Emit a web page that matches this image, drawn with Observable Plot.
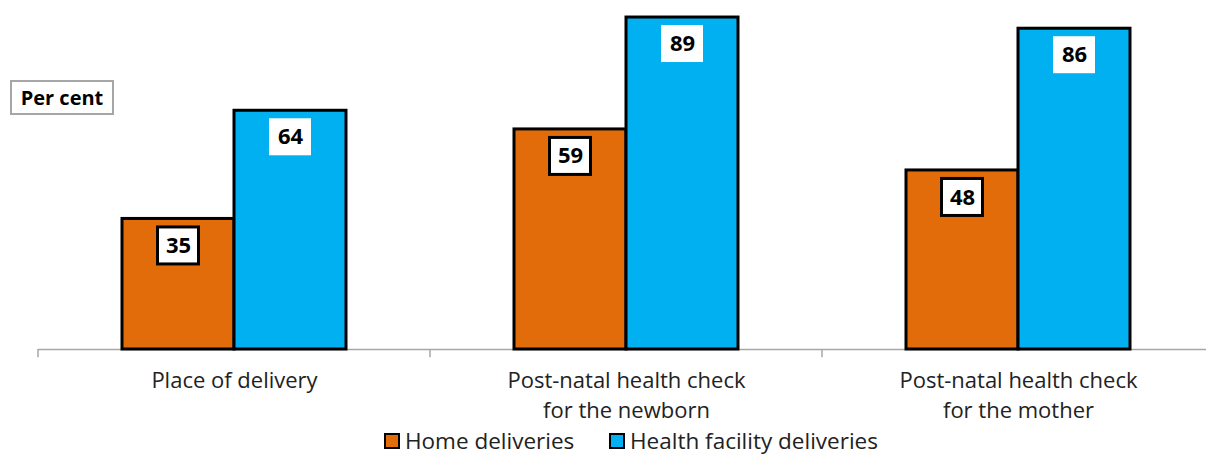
<!DOCTYPE html>
<html><head><meta charset="utf-8">
<script src="https://cdn.jsdelivr.net/npm/d3@7"></script>
<script src="https://cdn.jsdelivr.net/npm/@observablehq/plot@0.6"></script>
<style>
body{margin:0;background:#fff;font-family:"Open Sans",sans-serif;}
#wrap{position:relative;width:1206px;height:456px;overflow:hidden;background:#fff;}
#chart{position:absolute;left:0;top:0;}
#unit{position:absolute;left:10px;top:80px;width:100px;height:31px;border:2px solid #a6a6a6;font-weight:bold;font-size:20px;line-height:31px;text-align:center;color:#000;box-sizing:content-box;}
#legend{position:absolute;left:0;top:428px;width:1206px;height:26px;font-size:22.5px;line-height:26px;color:#222;}
.item{position:absolute;top:0;white-space:nowrap;}
.sw{display:inline-block;width:12px;height:12px;border:2px solid #000;vertical-align:middle;margin-right:5px;position:relative;top:-2px;}
</style></head>
<body>
<div id="wrap">
  <div id="chart"></div>
  <div id="unit">Per cent</div>
  <div id="legend"></div>
</div>
<script>
const categories = ["Place of delivery", "Post-natal health check for the newborn", "Post-natal health check for the mother"];
const categoryLabels = ["Place of delivery", "Post-natal health check\nfor the newborn", "Post-natal health check\nfor the mother"];
const series = ["Home deliveries", "Health facility deliveries"];
const homeValues = [35, 59, 48];
const facilityValues = [64, 89, 86];
const colors = ["#E36C0A", "#00B0F0"];

const home = categories.map((c, i) => ({cat: c, value: homeValues[i]}));
const facility = categories.map((c, i) => ({cat: c, value: facilityValues[i]}));

const bandW = 392;
const barW = 112;
const off = barW / 2;
const font = "'Open Sans', sans-serif";

const plot = Plot.plot({
  width: 1206,
  height: 426,
  marginLeft: 38,
  marginRight: 0,
  marginTop: 0,
  marginBottom: 0,
  style: {fontFamily: font, background: "transparent"},
  x: {domain: categories, range: [38, 38 + bandW * categories.length], padding: 0, axis: null},
  y: {domain: [0, 100], range: [349, 349 - 373], axis: null},
  marks: [
    Plot.ruleY([0], {stroke: "#a6a6a6", strokeWidth: 1.5}),
    Plot.barY(categories, {x: d => d, y1: 0, y2: -2.2, insetLeft: -0.75, insetRight: bandW - 0.75, fill: "#a6a6a6"}),
    Plot.barY(home, {x: "cat", y: "value", fill: colors[0], stroke: "#000", strokeWidth: 3, insetLeft: bandW/2 - barW, insetRight: bandW/2}),
    Plot.barY(facility, {x: "cat", y: "value", fill: colors[1], stroke: "#000", strokeWidth: 3, insetLeft: bandW/2, insetRight: bandW/2 - barW}),
    Plot.barY(home, {x: "cat", y1: "value", y2: "value", fill: "#fff", stroke: "#000", strokeWidth: 3,
      insetLeft: bandW/2 - off - 20.5, insetRight: bandW/2 + off - 20.5, insetTop: 8.5, insetBottom: -45.5}),
    Plot.barY(facility, {x: "cat", y1: "value", y2: "value", fill: "#fff",
      insetLeft: bandW/2 + off - 21, insetRight: bandW/2 - off - 21, insetTop: 8, insetBottom: -45}),
    Plot.text(home, {x: "cat", y: "value", text: d => String(d.value), dx: -off, dy: 27, fontSize: 22, fontWeight: "bold", fill: "#000"}),
    Plot.text(facility, {x: "cat", y: "value", text: d => String(d.value), dx: off, dy: 26.5, fontSize: 22, fontWeight: "bold", fill: "#000"}),
    Plot.text(categories, {x: d => d, y: 0, text: (d, i) => categoryLabels[i], lineAnchor: "top", dy: 18, lineHeight: 1.33, fontSize: 22, fill: "#222"})
  ]
});
document.getElementById("chart").appendChild(plot);

const legend = document.getElementById("legend");
const legendX = [384, 609];
series.forEach((s, i) => {
  const it = document.createElement("div");
  it.className = "item";
  it.style.left = legendX[i] + "px";
  const sw = document.createElement("span");
  sw.className = "sw";
  sw.style.background = colors[i];
  it.appendChild(sw);
  it.appendChild(document.createTextNode(s));
  legend.appendChild(it);
});
</script>
</body></html>
